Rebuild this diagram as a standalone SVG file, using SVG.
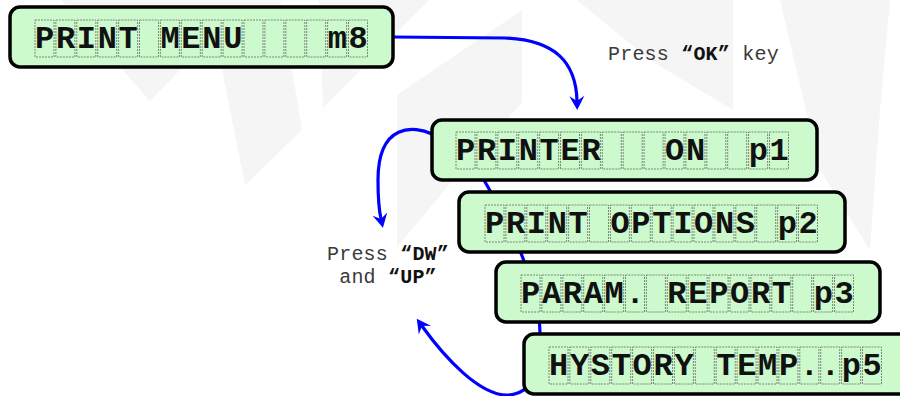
<svg xmlns="http://www.w3.org/2000/svg" xmlns:xlink="http://www.w3.org/1999/xlink" width="900" height="396" viewBox="0 0 900 396">
  <style>
    .wm { fill: #f5f5f5; }
    .lcd { fill: #ccfacc; stroke: #000; stroke-width: 3.5; }
    .cell { fill: none; stroke: #6a6a6a; stroke-width: 0.8; stroke-dasharray: 2 1; }
    .lcdtxt { font-family: "Liberation Mono", "Courier New", monospace; font-weight: bold; font-size: 32px; letter-spacing: 1.7px; fill: #111; }
    .note { font-family: "Liberation Mono", "Courier New", monospace; font-size: 20px; letter-spacing: 0.2px; fill: #3a3a3a; }
    .note .key { font-weight: bold; fill: #111; }
    .wire { fill: none; stroke: #0000ff; stroke-width: 3.2; }
  </style>
  <defs>
    <marker id="arrow" markerUnits="userSpaceOnUse" viewBox="-6 -8 16 16" refX="0" refY="0" markerWidth="16" markerHeight="16" orient="auto">
      <path d="M9,0 L-5,-7.5 L0,0 L-5,7.5 Z" fill="#0000ff"/>
    </marker>
    <!-- 16 character cells of the LCD line -->
    <g id="cells">
      <rect class="cell" x="0" y="0" width="19" height="37"/>
      <rect class="cell" x="20.9" y="0" width="19" height="37"/>
      <rect class="cell" x="41.8" y="0" width="19" height="37"/>
      <rect class="cell" x="62.7" y="0" width="19" height="37"/>
      <rect class="cell" x="83.6" y="0" width="19" height="37"/>
      <rect class="cell" x="104.5" y="0" width="19" height="37"/>
      <rect class="cell" x="125.4" y="0" width="19" height="37"/>
      <rect class="cell" x="146.3" y="0" width="19" height="37"/>
      <rect class="cell" x="167.2" y="0" width="19" height="37"/>
      <rect class="cell" x="188.1" y="0" width="19" height="37"/>
      <rect class="cell" x="209" y="0" width="19" height="37"/>
      <rect class="cell" x="229.9" y="0" width="19" height="37"/>
      <rect class="cell" x="250.8" y="0" width="19" height="37"/>
      <rect class="cell" x="271.7" y="0" width="19" height="37"/>
      <rect class="cell" x="292.6" y="0" width="19" height="37"/>
      <rect class="cell" x="313.5" y="0" width="19" height="37"/>
    </g>
  </defs>

  <rect width="900" height="396" fill="#ffffff"/>

  <!-- faint background logo -->
  <g id="watermark">
    <polygon class="wm" points="61,0 248,0 150,101"/>
    <polygon class="wm" points="208,0 280,0 302,130 245,185 220,60"/>
    <polygon class="wm" points="319,0 429,0 323,108"/>
    <polygon class="wm" points="397,95 522,10 522,103 470,160 397,247"/>
    <polygon class="wm" points="577,0 733,0 733,110 650,60"/>
    <polygon class="wm" points="780,0 890,0 880,110 870,250 820,170"/>
  </g>

  <g id="connectors">
    <path class="wire" d="M393,37 L505,38 C555,40 576,62 577,101" marker-end="url(#arrow)"/>
    <path class="wire" d="M432,134 C415,126 378,122 378,180 C378,200 379,210 381,219" marker-end="url(#arrow)"/>
    <path class="wire" d="M478,170 C505,215 540,280 540,335 C540,372 532,394 508,395 C480,396 445,358 422,326" marker-end="url(#arrow)"/>
  </g>

  <g id="note-ok">
    <text class="note" x="608" y="60">Press <tspan class="key">“OK”</tspan> key</text>
  </g>
  <g id="note-dw-up">
    <text class="note" x="388" y="260" text-anchor="middle">Press <tspan class="key">“DW”</tspan></text>
    <text class="note" x="388" y="283" text-anchor="middle">and <tspan class="key">“UP”</tspan></text>
  </g>

  <g id="print-menu">
    <rect class="lcd" x="10" y="7" width="383" height="60" rx="10"/>
    <use xlink:href="#cells" x="35" y="20"/>
    <text class="lcdtxt" x="35" y="48" xml:space="preserve">PRINT MENU    m8</text>
  </g>

  <g id="printer-on">
    <rect class="lcd" x="432" y="120" width="385" height="60" rx="10"/>
    <use xlink:href="#cells" x="456" y="132"/>
    <text class="lcdtxt" x="456" y="160" xml:space="preserve">PRINTER   ON  p1</text>
  </g>

  <g id="print-options">
    <rect class="lcd" x="459" y="192" width="386" height="60" rx="10"/>
    <use xlink:href="#cells" x="485" y="205"/>
    <text class="lcdtxt" x="485" y="233" xml:space="preserve">PRINT OPTIONS p2</text>
  </g>

  <g id="param-report">
    <rect class="lcd" x="496" y="262" width="384" height="60" rx="10"/>
    <use xlink:href="#cells" x="521" y="275"/>
    <text class="lcdtxt" x="521" y="303" xml:space="preserve">PARAM. REPORT p3</text>
  </g>

  <g id="history-temp">
    <rect class="lcd" x="524" y="334" width="390" height="60" rx="10"/>
    <use xlink:href="#cells" x="549" y="347"/>
    <text class="lcdtxt" x="549" y="375" xml:space="preserve">HYSTORY TEMP..p5</text>
  </g>
</svg>
